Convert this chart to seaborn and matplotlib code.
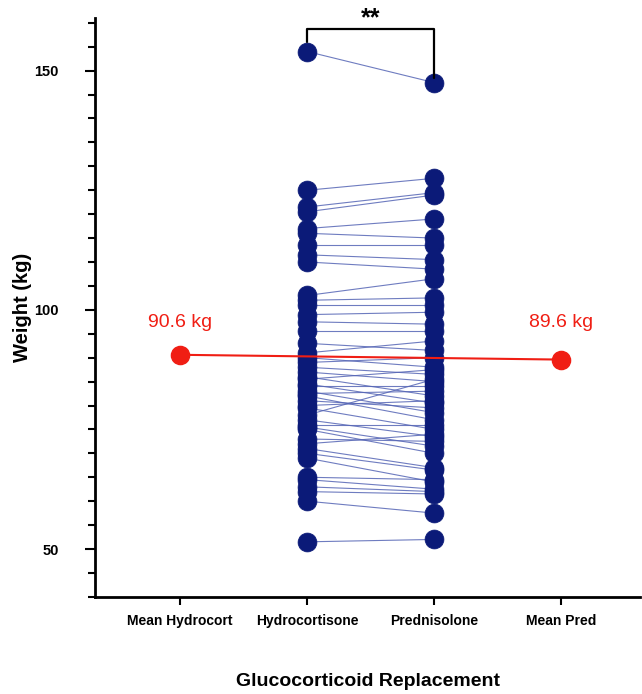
import matplotlib
matplotlib.use("Agg")
import matplotlib.pyplot as plt
from matplotlib.ticker import MultipleLocator
import seaborn as sns
import pandas as pd

groups = ["Mean Hydrocort", "Hydrocortisone", "Prednisolone", "Mean Pred"]

hydrocortisone = [154, 125, 121.5, 120.5, 117, 116, 113.5, 111.5, 110, 103,
                  102, 101, 99, 97.5, 95.5, 93, 91, 90, 89, 88,
                  87, 86, 85.5, 84.5, 84, 83, 82.5, 82, 81, 80,
                  79.5, 78, 77, 76, 75.5, 75, 73, 72, 71, 70,
                  69, 65, 64.5, 63, 62, 60, 51.5]
prednisolone = [147.5, 127.5, 124.5, 124, 119, 115, 113.5, 110.5, 108.5, 106.5,
                102.5, 101, 99.5, 97, 95.5, 91.5, 93.5, 88, 90, 86.5,
                85, 82, 87.5, 80.5, 84, 78.5, 83, 77, 79.5, 81,
                75, 85.5, 73.5, 76, 71.5, 70, 72.5, 74, 67, 66.5,
                64, 64.5, 62.5, 62, 61.5, 57.5, 52]

mean_hydro = 90.6
mean_pred = 89.6

n = len(hydrocortisone)
df = pd.DataFrame({
    "id": list(range(n)) * 2,
    "pos": [1] * n + [2] * n,
    "weight": hydrocortisone + prednisolone,
})
means = pd.DataFrame({"pos": [0, 3], "weight": [mean_hydro, mean_pred]})

sns.set_style("ticks")
plt.rcParams["font.family"] = ["Liberation Sans", "DejaVu Sans"]
plt.rcParams["text.color"] = "black"
plt.rcParams["axes.labelcolor"] = "black"
plt.rcParams["xtick.color"] = "black"
plt.rcParams["ytick.color"] = "black"

fig = plt.figure(figsize=(6.42, 6.94), dpi=100)
ax = fig.add_axes([0.148, 0.140, 0.849, 0.834])

navy = "#0b1a78"
sns.lineplot(data=df, x="pos", y="weight", units="id", estimator=None,
             color="#5565b5", linewidth=0.8, alpha=0.85, ax=ax, zorder=2)
sns.scatterplot(data=df, x="pos", y="weight", color=navy, s=185,
                edgecolor=navy, linewidth=0.5, ax=ax, zorder=3)

red = "#f01e14"
sns.lineplot(data=means, x="pos", y="weight", color=red, linewidth=1.5,
             ax=ax, zorder=4)
sns.scatterplot(data=means, x="pos", y="weight", color=red, s=170,
                edgecolor=red, ax=ax, zorder=5)

ax.text(0, 97.3, f"{mean_hydro} kg", color=red, fontsize=14, ha="center", va="center")
ax.text(3, 97.3, f"{mean_pred} kg", color=red, fontsize=14, ha="center", va="center")

# significance bracket
ax.plot([1, 1, 2, 2], [156, 158.8, 158.8, 148.5], color="black", linewidth=1.6,
        clip_on=False, zorder=6)
ax.text(1.5, 161.0, "**", fontsize=18, fontweight="bold", ha="center", va="center")

ax.set_xlim(-0.67, 3.62)
ax.set_ylim(40, 161)
ax.set_xticks(range(4))
ax.set_xticklabels(groups, fontsize=10, fontweight="bold")
ax.set_yticks([50, 100, 150])
ax.set_yticklabels(["50", "100", "150"], fontsize=10.5, fontweight="bold")
ax.yaxis.set_minor_locator(MultipleLocator(5))
ax.tick_params(axis="both", which="major", length=7, width=1.5, color="black")
ax.tick_params(axis="y", which="minor", length=5, width=1.5, color="black")
ax.tick_params(axis="y", which="major", pad=19)
ax.tick_params(axis="x", which="major", length=6, pad=6)

ax.set_xlabel("Glucocorticoid Replacement", fontsize=14, fontweight="bold", labelpad=33)
ax.set_ylabel("Weight (kg)", fontsize=14.5, fontweight="bold", labelpad=2)

sns.despine(ax=ax)
for side in ["left", "bottom"]:
    ax.spines[side].set_linewidth(2)
    ax.spines[side].set_color("black")

fig.savefig("out.png", dpi=100)
